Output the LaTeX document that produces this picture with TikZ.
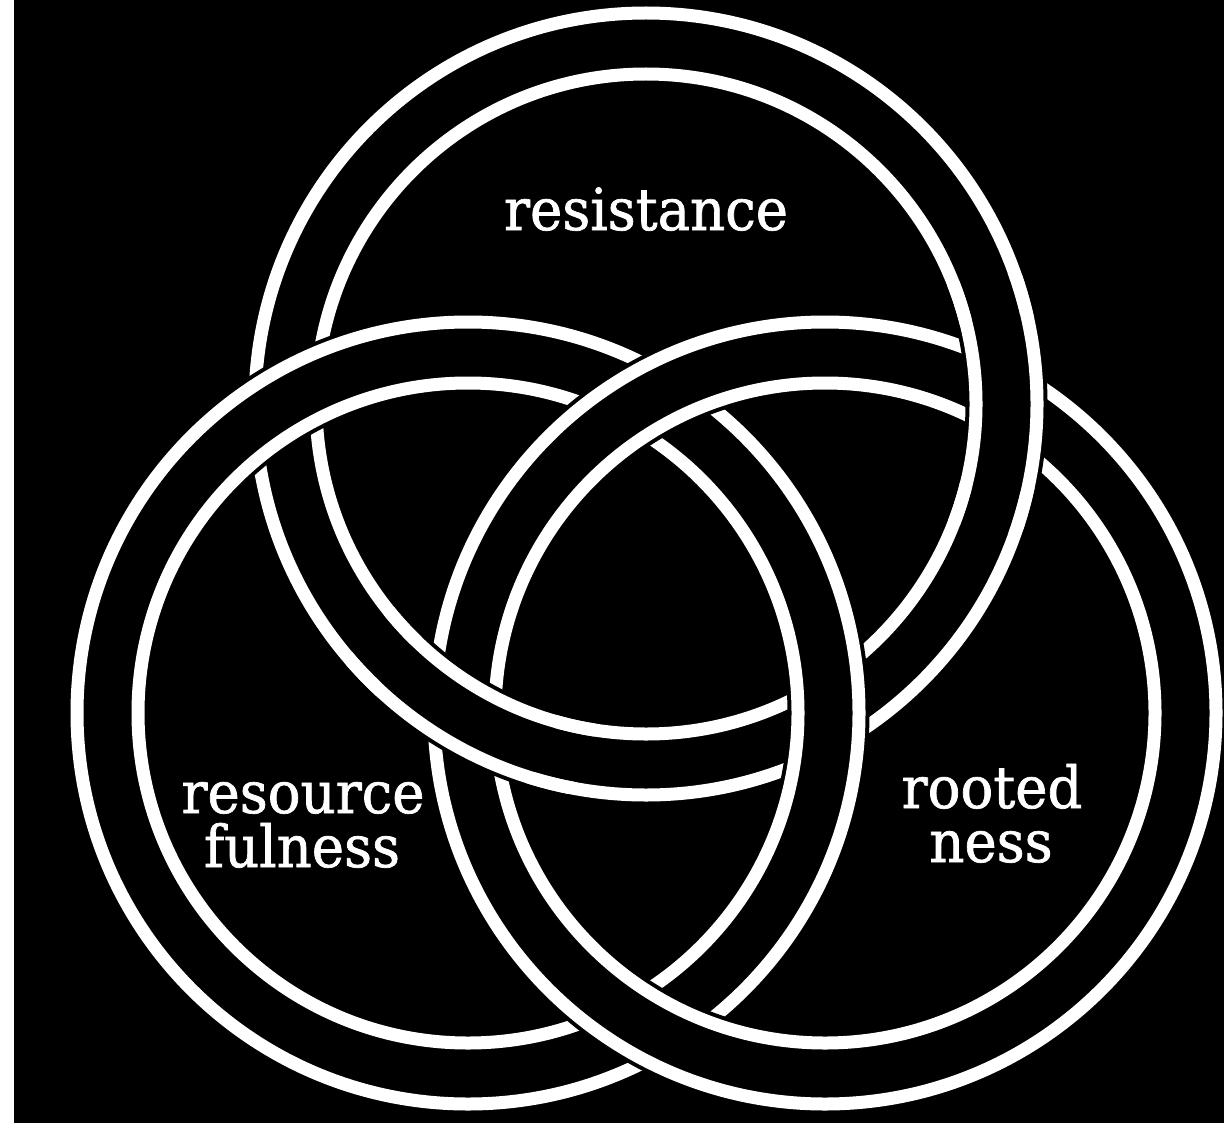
\documentclass[tikz,border=0pt]{standalone}
\usepackage{fontspec}
\newfontfamily\slabfont[FakeStretch=0.94,FakeBold=1.2]{DejaVu Serif}
\newcommand\ringband[1]{\draw[bandbg] (#1) circle[radius=180.25pt];}
\newcommand\ringlines[1]{%
  \draw[ringline] (#1) circle[radius=165pt];
  \draw[ringline] (#1) circle[radius=195.5pt];}
\newcommand\drawring[1]{\ringband{#1}\ringlines{#1}}
\begin{document}
\begin{tikzpicture}[x=0.5pt,y=-0.5pt,
  bandbg/.style={draw=black,line width=41pt},
  ringline/.style={draw=white,line width=6.5pt},
  lbl/.style={text=white,font=\slabfont\fontsize{29}{34}\selectfont,anchor=base,inner sep=0pt}]
\fill[white] (0,0) rectangle (1224,1123);
\fill[black] (14,0) rectangle (1224,1123);
\useasboundingbox (0,0) rectangle (1224,1123);
\coordinate (T) at (646,404);
\coordinate (L) at (468,713);
\coordinate (R) at (825,713);
\coordinate (TRa) at (1004,403);
\coordinate (TRb) at (466,715);
% T under L, L under R, R under T (Borromean)
\drawring{T}
\drawring{L}
\drawring{R}
% put T back over R at both T--R crossings
\begin{scope}
  \clip (TRa) circle[radius=45pt] (TRb) circle[radius=45pt];
  \ringband{T}
\end{scope}
\begin{scope}
  \clip (TRa) circle[radius=65pt] (TRb) circle[radius=65pt];
  \ringlines{T}
\end{scope}
\node[lbl] (resist) at (646,230) {resistance};
\node[lbl] (res1) at (303,813) {resource};
\node[lbl] (res2) at (302,867) {fulness};
\node[lbl] (root1) at (992,808) {rooted};
\node[lbl] (root2) at (991,862) {ness};
\end{tikzpicture}
\end{document}
